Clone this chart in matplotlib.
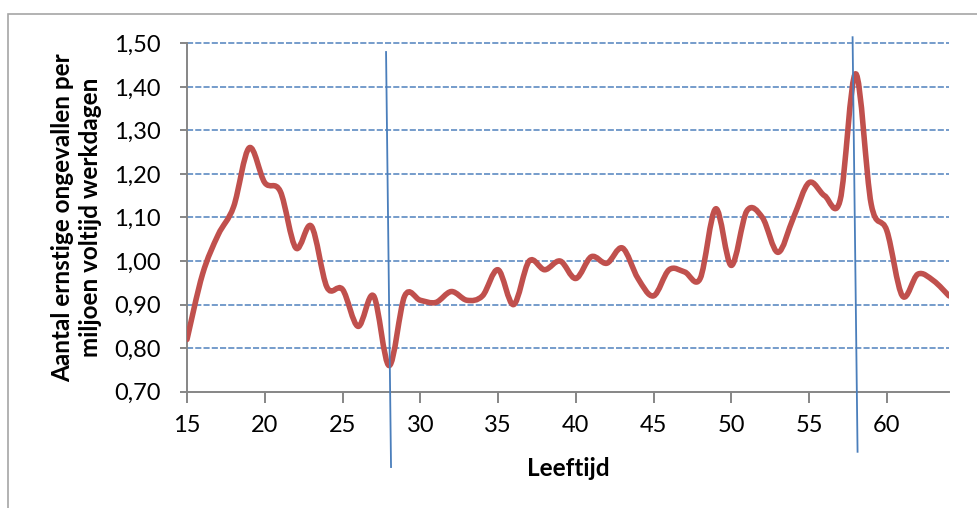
import numpy as np
import matplotlib.pyplot as plt
from matplotlib.path import Path
from matplotlib.patches import PathPatch, Rectangle
from matplotlib.ticker import MultipleLocator, FuncFormatter

plt.rcParams['font.family'] = ['Lato', 'DejaVu Sans']

# Ernstige ongevallen per miljoen voltijd werkdagen, naar leeftijd
leeftijd = [15, 16, 17, 18, 19, 20, 21, 22, 23, 24,
            25, 26, 27, 28, 29, 30, 31, 32, 33, 34,
            35, 36, 37, 38, 39, 40, 41, 42, 43, 44,
            45, 46, 47, 48, 49, 50, 51, 52, 53, 54,
            55, 56, 57, 58, 59, 60, 61, 62, 63, 64]
ongevallen = [0.82, 0.97, 1.06, 1.125, 1.26, 1.18, 1.16, 1.03, 1.08, 0.94,
              0.935, 0.85, 0.92, 0.76, 0.92, 0.91, 0.905, 0.93, 0.91, 0.92,
              0.98, 0.90, 1.00, 0.98, 1.00, 0.96, 1.01, 0.995, 1.03, 0.96,
              0.92, 0.98, 0.975, 0.96, 1.12, 0.99, 1.115, 1.10, 1.02, 1.10,
              1.18, 1.15, 1.14, 1.43, 1.13, 1.07, 0.92, 0.97, 0.955, 0.92]

# scheidingslijnen tussen leeftijdsgroepen (handgetekend, iets scheef)
grens_leeftijd = [28, 58]
grens_boven = [1.48, 1.514]
grens_onder = [0.527, 0.562]

RED = '#C0504D'
BLUE = '#4F81BD'
GREY = '#868686'


def smooth_path(xs, ys):
    # vloeiende lijn zoals in Excel: bezier-segmenten met catmull-rom raaklijnen
    pts = np.column_stack([xs, ys]).astype(float)
    n = len(pts)
    verts = [pts[0]]
    codes = [Path.MOVETO]
    for i in range(n - 1):
        p0 = pts[max(i - 1, 0)]
        p1 = pts[i]
        p2 = pts[i + 1]
        p3 = pts[min(i + 2, n - 1)]
        c1 = p1 + (p2 - p0) / 6.0
        c2 = p2 - (p3 - p1) / 6.0
        verts += [c1, c2, p2]
        codes += [Path.CURVE4] * 3
    return Path(verts, codes)


fig = plt.figure(figsize=(9.78, 5.08), dpi=100)
ax = fig.add_axes([187 / 978, 1 - 391.7 / 508, (949 - 187) / 978, (391.7 - 43.3) / 508])

# kader rond de grafiek
fig.patches.append(Rectangle((8 / 978, -0.1), 1.2, 1 - 14 / 508 + 0.1,
                             transform=fig.transFigure, fill=False,
                             edgecolor='#A6A6A6', linewidth=1.2, zorder=0))

ax.set_xlim(15, 64)
ax.set_ylim(0.70, 1.50)
ax.yaxis.set_major_locator(MultipleLocator(0.10))
ax.xaxis.set_major_locator(MultipleLocator(5))
ax.yaxis.set_major_formatter(FuncFormatter(lambda v, p: f'{v:.2f}'.replace('.', ',')))

for yv in np.arange(0.80, 1.501, 0.10):
    ax.axhline(yv, color=BLUE, linewidth=1.1, dashes=(4, 1.4), zorder=1,
               clip_on=False)

ax.add_patch(PathPatch(smooth_path(leeftijd, ongevallen), facecolor='none',
                       edgecolor=RED, linewidth=4.0, capstyle='round',
                       joinstyle='round', zorder=3))

for a, yt, yb in zip(grens_leeftijd, grens_boven, grens_onder):
    ax.plot([a - 0.2, a + 0.12], [yt, yb], color='#4A7EBB', linewidth=1.3,
            clip_on=False, zorder=4)

for side in ['top', 'right']:
    ax.spines[side].set_visible(False)
for side in ['left', 'bottom']:
    ax.spines[side].set_color(GREY)
    ax.spines[side].set_linewidth(1.4)

ax.tick_params(axis='x', direction='out', length=8, width=1.4, color=GREY,
               labelsize=17, pad=9)
ax.tick_params(axis='y', direction='out', length=5, width=1.4, color=GREY,
               labelsize=17, pad=14)

ax.set_xlabel('Leeftijd', fontsize=17.5, fontweight='bold')
ax.xaxis.label.set_va('center')
ax.xaxis.set_label_coords(0.5, (391.7 - 468) / 348.4)

ax.set_ylabel('Aantal ernstige ongevallen per\nmiljoen voltijd werkdagen',
              fontsize=17.5, fontweight='bold', linespacing=1.25)
ax.yaxis.label.set_va('center')
ax.yaxis.set_label_coords((77 - 187) / 762, 0.5)

fig.savefig('out.png', dpi=100)
